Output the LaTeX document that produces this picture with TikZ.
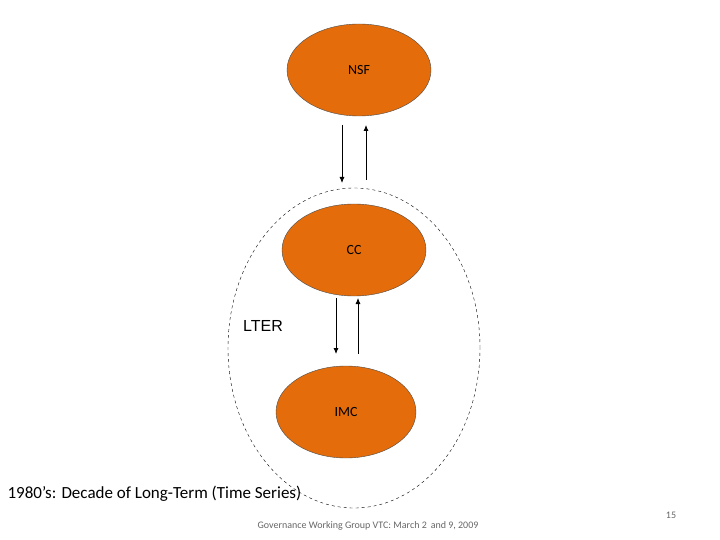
\documentclass[tikz,border=0pt]{standalone}
\usepackage{fontspec}
\setmainfont{Carlito}
\newfontfamily\arialf{Liberation Sans}
\usetikzlibrary{shapes.geometric,arrows.meta}
\definecolor{orng}{HTML}{E46C0A}
\begin{document}
\begin{tikzpicture}[x=1pt,y=-1pt,
  ent/.style={ellipse,draw=black!70,fill=orng,minimum width=144pt,minimum height=92pt,inner sep=0pt,font=\fontsize{14}{16}\selectfont},
  arr/.style={-{Latex[length=6pt,width=5pt]},thick}]
\useasboundingbox (0,0) rectangle (720,540);
\node[ellipse,draw,dashed,minimum width=252pt,minimum height=320pt] (lter) at (354,348) {};
\node[ent] (nsf) at (359,70) {NSF};
\node[ent] (cc) at (354,250) {CC};
\node[ent,minimum width=140pt] (imc) at (346,412) {IMC};
\coordinate (a1) at (342,125); \coordinate (a2) at (342,183);
\coordinate (b1) at (366,180); \coordinate (b2) at (366,125);
\coordinate (c1) at (336,298); \coordinate (c2) at (336,354);
\coordinate (d1) at (358,354); \coordinate (d2) at (358,298);
\draw[arr] (a1) -- (a2);
\draw[arr] (b1) -- (b2);
\draw[arr] (c1) -- (c2);
\draw[arr] (d1) -- (d2);
\node[font=\arialf\fontsize{16}{18}\selectfont] (lt) at (263,326) {LTER};
\node[anchor=west,font=\fontsize{17}{20}\selectfont] (cap) at (4,494) {1980's: Decade of Long-Term (Time Series)};
\node[font=\fontsize{10}{12}\selectfont,text=black!60] (ft) at (368,526) {Governance Working Group VTC: March 2\, and 9, 2009};
\node[font=\fontsize{10}{12}\selectfont,text=black!60] (pg) at (671,515) {15};
\end{tikzpicture}
\end{document}
